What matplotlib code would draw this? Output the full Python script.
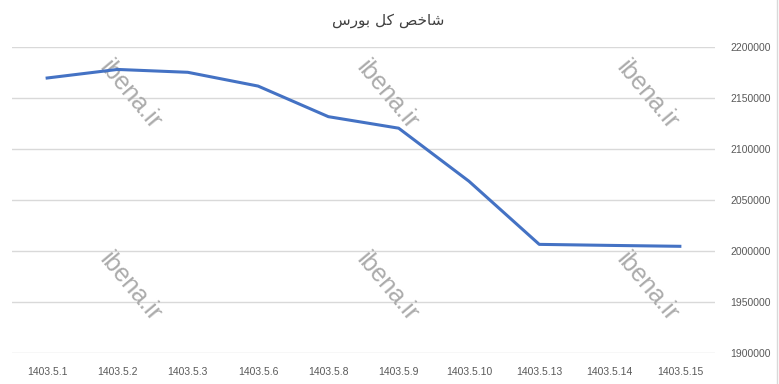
import matplotlib
matplotlib.use("Agg")
import matplotlib.pyplot as plt
from matplotlib.ticker import FixedLocator

# ---- data ----
dates = ["1403.5.1", "1403.5.2", "1403.5.3", "1403.5.6", "1403.5.8",
         "1403.5.9", "1403.5.10", "1403.5.13", "1403.5.14", "1403.5.15"]
index_values = [2169600, 2178000, 2175200, 2161700, 2131700,
                2120400, 2068400, 2006500, 2005500, 2004600]
y_ticks = [1900000, 1950000, 2000000, 2050000, 2100000, 2150000, 2200000]
title_logical = "شاخص کل بورس"
watermark = "ibena.ir"

# manual Arabic shaping (presentation forms, visual order) for matplotlib
shaped = {"ش": "\uFEB7", "ا": "\uFE8E", "خ": "\uFEA7", "ص": "\uFEBA",
          "ک": "\uFB90", "ل": "\uFEDE", "ب": "\uFE91", "و": "\uFEEE",
          "ر": "\uFEAD", "س": "\uFEB1", " ": " "}
title_visual = "".join(shaped[c] for c in title_logical)[::-1]

fig = plt.figure(figsize=(7.79, 3.84), dpi=100)
ax = fig.add_axes([12/779, 1-353/384, (715-12)/779, (353-47)/384])

x = list(range(len(dates)))
ax.plot(x, index_values, color="#4472C4", linewidth=2.2, zorder=3,
        solid_joinstyle="round")

ax.set_xlim(-0.5, len(dates) - 0.5)
ax.set_ylim(y_ticks[0], y_ticks[-1])
ax.set_xticks(x)
ax.set_xticklabels(dates, family="Liberation Sans")
ax.yaxis.set_major_locator(FixedLocator(y_ticks))
ax.set_yticklabels([str(v) for v in y_ticks], family="Liberation Sans")
ax.yaxis.tick_right()
ax.tick_params(axis="both", length=0, labelsize=7.5, labelcolor="#595959")
ax.tick_params(axis="y", pad=11)
ax.tick_params(axis="x", pad=10)
ax.grid(axis="y", color="#d9d9d9", linewidth=1, zorder=0)
ax.set_axisbelow(True)
for s in ax.spines.values():
    s.set_visible(False)

fig.text(388/779, 1-20/384, title_visual, ha="center", va="center",
         fontsize=11, color="#404040", family=["DejaVu Sans"])

for cx in (130, 387, 647):
    for cy in (95, 287):
        ax.text(cx/779, 1-cy/384, watermark, ha="center", va="center",
                rotation=-50, rotation_mode="anchor", fontsize=18,
                color="#ababab", family=["Liberation Sans"], zorder=2,
                transform=fig.transFigure, clip_on=False)

fig.add_artist(plt.Line2D([777/779, 777/779], [0, 1], color="#d9d9d9",
                          linewidth=1, transform=fig.transFigure))

fig.savefig("out.png", dpi=100)
